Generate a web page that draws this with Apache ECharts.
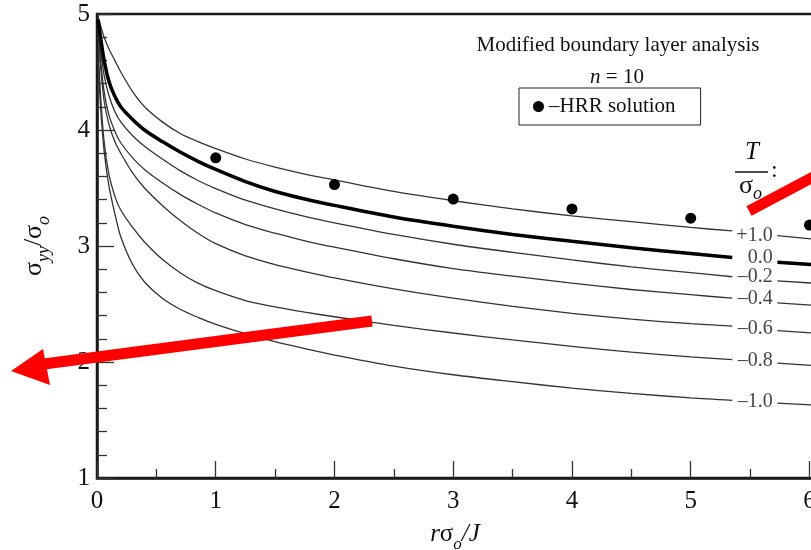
<!DOCTYPE html>
<html>
<head>
<meta charset="utf-8">
<script src="https://cdn.jsdelivr.net/npm/echarts@6/dist/echarts.min.js"></script>
<style>
  html, body { margin: 0; padding: 0; background: #fff; }
  #chart { width: 811px; height: 550px; }
</style>
</head>
<body>
<div id="chart"></div>
<script>
// r*sigma_o/J sample points, the '-' slot is where the curve label sits
const xs = [0.01, 0.03, 0.06, 0.1, 0.15, 0.2, 0.3, 0.4, 0.55, 0.7, 0.85, 1.0, 1.25, 1.5, 1.75,
            2.0, 2.5, 3.0, 3.5, 4.0, 4.5, 5.0, 5.35, 5.54, 5.73, 6.03];

// sigma_yy/sigma_o for each T/sigma_o
const tPlus10 = [4.97, 4.9, 4.8, 4.7, 4.6, 4.5, 4.33, 4.2, 4.07, 3.97, 3.9, 3.84, 3.75, 3.68, 3.62,
                 3.57, 3.47, 3.39, 3.32, 3.26, 3.21, 3.16, 3.13, '-', 3.09, 3.06];
const tZero    = [4.95, 4.8, 4.6, 4.42, 4.29, 4.2, 4.09, 4.0, 3.9, 3.81, 3.73, 3.66, 3.555, 3.47, 3.405,
                 3.35, 3.25, 3.17, 3.1, 3.04, 2.985, 2.935, 2.9, '-', 2.86, 2.84];
const tMinus02 = [4.9, 4.7, 4.47, 4.3, 4.16, 4.07, 3.95, 3.86, 3.75, 3.65, 3.565, 3.495, 3.395, 3.32, 3.255,
                 3.2, 3.1, 3.015, 2.945, 2.88, 2.82, 2.77, 2.735, '-', 2.7, 2.68];
const tMinus04 = [4.85, 4.6, 4.33, 4.13, 3.99, 3.89, 3.76, 3.66, 3.545, 3.445, 3.36, 3.285, 3.185, 3.11, 3.045,
                 2.99, 2.89, 2.805, 2.74, 2.68, 2.625, 2.58, 2.55, '-', 2.51, 2.49];
const tMinus06 = [4.85, 4.55, 4.25, 4.05, 3.9, 3.8, 3.63, 3.5, 3.35, 3.22, 3.11, 3.02, 2.915, 2.84, 2.78,
                 2.725, 2.63, 2.55, 2.48, 2.42, 2.37, 2.33, 2.31, '-', 2.27, 2.25];
const tMinus08 = [4.7, 4.3, 3.9, 3.62, 3.43, 3.31, 3.16, 3.035, 2.885, 2.77, 2.68, 2.615, 2.53, 2.475, 2.43,
                 2.39, 2.315, 2.25, 2.19, 2.135, 2.085, 2.045, 2.02, '-', 1.99, 1.97];
const tMinus10 = [4.6, 4.2, 3.82, 3.52, 3.28, 3.08, 2.84, 2.69, 2.55, 2.455, 2.385, 2.325, 2.245, 2.175, 2.115,
                 2.06, 1.965, 1.89, 1.83, 1.775, 1.73, 1.69, 1.67, '-', 1.645, 1.63];

// HRR solution dots
const hrrX = [1, 2, 3, 4, 5, 6];
const hrrY = [3.76, 3.53, 3.405, 3.32, 3.24, 3.18];

// curve labels (T/sigma_o values), placed where the curves are broken
const curveLabels = ['+1.0', '0.0', '\u20130.2', '\u20130.4', '\u20130.6', '\u20130.8', '\u20131.0'];
const labelY = [3.086, 2.9, 2.733, 2.543, 2.284, 2.009, 1.655];
const labelX = 5.69;

const xTicks = [0, 1, 2, 3, 4, 5, 6];
const yTicks = [1, 2, 3, 4, 5];

const serif = '"Liberation Serif", "DejaVu Serif", serif';
const curves = [tPlus10, tZero, tMinus02, tMinus04, tMinus06, tMinus08, tMinus10];

const chart = echarts.init(document.getElementById('chart'));

const lineSeries = curves.map((ys, k) => ({
  name: curveLabels[k],
  type: 'line',
  data: xs.map((x, i) => [x, ys[i]]),
  showSymbol: false,
  smooth: 0.3,
  connectNulls: false,
  silent: true,
  lineStyle: {
    color: k === 1 ? '#000' : '#333',
    width: k === 1 ? 3.5 : 1.3
  },
  z: k === 1 ? 3 : 2
}));

const option = {
  animation: false,
  backgroundColor: '#fff',
  title: [
    {
      text: 'Modified boundary layer analysis',
      left: 613,
      top: 30,
      textAlign: 'center',
      textStyle: { fontFamily: serif, fontSize: 21, fontWeight: 'normal', color: '#111' }
    },
    {
      text: '{i|n} = 10',
      left: 612,
      top: 62,
      textAlign: 'center',
      textStyle: {
        fontFamily: serif, fontSize: 21, fontWeight: 'normal', color: '#111',
        rich: { i: { fontFamily: serif, fontSize: 21, fontStyle: 'italic', color: '#111' } }
      }
    }
  ],
  legend: {
    data: ['\u2013HRR solution'],
    left: 519,
    top: 88,
    padding: [8, 25, 8, 14],
    borderColor: '#222',
    borderWidth: 1,
    itemWidth: 11,
    itemHeight: 11,
    textStyle: { fontFamily: serif, fontSize: 21, color: '#111' }
  },
  grid: {
    left: 97,
    top: 14,
    width: 716,
    height: 464,
    outerBoundsMode: 'none',
    containLabel: false,
    show: true,
    borderColor: '#1a1a1a',
    borderWidth: 2.5
  },
  xAxis: {
    type: 'value',
    min: 0,
    max: 6.03,
    interval: 1,
    name: '{i|r}{m|\u03c3}{s|o}{i|/J}',
    nameLocation: 'middle',
    nameGap: 44,
    nameTextStyle: {
      rich: {
        i: { fontFamily: serif, fontSize: 25, fontStyle: 'italic', color: '#111', lineHeight: 28, verticalAlign: 'top' },
        m: { fontFamily: serif, fontSize: 25, color: '#111', lineHeight: 28, verticalAlign: 'top' },
        s: { fontFamily: serif, fontSize: 17, fontStyle: 'italic', color: '#111', lineHeight: 17, padding: [14, 0, 0, 0], verticalAlign: 'top' }
      }
    },
    axisLine: { lineStyle: { color: '#1a1a1a', width: 2.5 } },
    axisTick: { inside: true, length: 17, lineStyle: { color: '#333', width: 1.3 } },
    minorTick: { show: true, splitNumber: 2, length: 9, lineStyle: { color: '#333', width: 1.3 } },
    splitLine: { show: false },
    axisLabel: {
      margin: 11,
      fontFamily: serif,
      fontSize: 25,
      color: '#111',
      formatter: v => (xTicks.indexOf(v) >= 0 ? String(v) : '')
    }
  },
  yAxis: {
    type: 'value',
    min: 1,
    max: 5,
    interval: 1,
    name: '{m|\u03c3}{s|yy}{m|/\u03c3}{s|o}',
    nameLocation: 'middle',
    nameGap: 48,
    nameRotate: 90,
    nameTextStyle: {
      rich: {
        m: { fontFamily: serif, fontSize: 26, color: '#111', lineHeight: 28, verticalAlign: 'top' },
        s: { fontFamily: serif, fontSize: 18, fontStyle: 'italic', color: '#111', lineHeight: 18, padding: [14, 0, 0, 0], verticalAlign: 'top' }
      }
    },
    axisLine: { lineStyle: { color: '#1a1a1a', width: 2.5 } },
    axisTick: { inside: true, length: 17, lineStyle: { color: '#333', width: 1.3 } },
    minorTick: { show: true, splitNumber: 5, length: 10, lineStyle: { color: '#333', width: 1.3 } },
    splitLine: { show: false },
    axisLabel: {
      margin: 7,
      fontFamily: serif,
      fontSize: 25,
      color: '#111',
      formatter: v => (yTicks.indexOf(v) >= 0 ? String(v) : '')
    }
  },
  series: lineSeries.concat([
    {
      name: '\u2013HRR solution',
      type: 'scatter',
      data: hrrX.map((x, i) => [x, hrrY[i]]),
      symbol: 'circle',
      symbolSize: 11,
      itemStyle: { color: '#000', opacity: 1 },
      z: 5
    },
    {
      name: 'labels',
      type: 'scatter',
      data: labelY.map((y, i) => [labelX, y, curveLabels[i]]),
      symbolSize: 0,
      silent: true,
      label: {
        show: true,
        position: 'left',
        distance: 0,
        formatter: p => p.value[2],
        fontFamily: serif,
        fontSize: 20,
        color: '#111'
      },
      z: 6
    }
  ]),
  graphic: [
    // T / sigma_o heading over the curve labels
    { type: 'text', left: 745, top: 140, style: { text: 'T', font: 'italic 25px ' + serif, fill: '#111' } },
    { type: 'line', shape: { x1: 735, y1: 172, x2: 768, y2: 172 }, style: { stroke: '#111', lineWidth: 1.5 } },
    {
      type: 'text', left: 739, top: 173,
      style: {
        text: '{m|\u03c3}{s|o}',
        rich: {
          m: { fontFamily: serif, fontSize: 26, fill: '#111', lineHeight: 24, verticalAlign: 'top' },
          s: { fontFamily: serif, fontSize: 18, fontStyle: 'italic', fill: '#111', lineHeight: 18, padding: [12, 0, 0, 0], verticalAlign: 'top' }
        }
      }
    },
    { type: 'text', left: 771, top: 159, style: { text: ':', font: '24px ' + serif, fill: '#111' } },
    // red annotation arrows
    { type: 'line', shape: { x1: 372, y1: 321, x2: 44, y2: 364 }, style: { stroke: '#ff0000', lineWidth: 11 }, z: 20 },
    { type: 'polygon', shape: { points: [[11, 371], [43, 349], [50, 385]] }, style: { fill: '#ff0000' }, z: 20 },
    { type: 'line', shape: { x1: 749, y1: 211, x2: 815, y2: 176 }, style: { stroke: '#ff0000', lineWidth: 11 }, z: 20 }
  ]
};

chart.setOption(option);
</script>
</body>
</html>
